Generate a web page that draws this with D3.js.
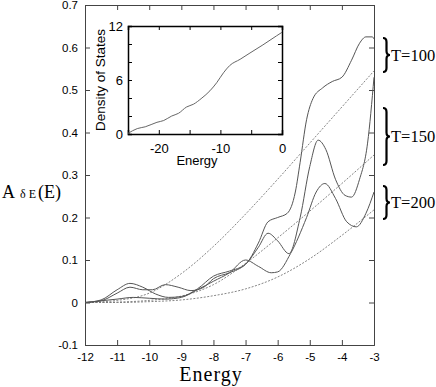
<!DOCTYPE html>
<html>
<head>
<meta charset="utf-8">
<script src="https://cdn.jsdelivr.net/npm/d3@7"></script>
<style>
  body { margin: 0; background: #fff; }
  svg { display: block; }
  .tick text { font-family: "Liberation Sans", Arial, sans-serif; fill: #000; }
</style>
</head>
<body>
<div id="chart"></div>
<script>
// main plot data: [energy, A]
const curveT100 = [[-12,0],[-11.5,0.006],[-11,0.03],[-10.6,0.045],[-10.2,0.036],[-9.8,0.02],[-9.4,0.012],[-9,0.014],[-8.5,0.032],[-8,0.062],[-7.5,0.074],[-7,0.09],[-6.6,0.14],[-6.3,0.19],[-6,0.2],[-5.7,0.21],[-5.45,0.26],[-5.3,0.33],[-5.1,0.43],[-4.9,0.48],[-4.6,0.505],[-4.3,0.52],[-4,0.53],[-3.7,0.57],[-3.45,0.61],[-3.25,0.625],[-3.05,0.625],[-3,0.62]];
const curveT150 = [[-12,0],[-11.5,0.004],[-11,0.022],[-10.6,0.036],[-10.2,0.03],[-9.9,0.03],[-9.5,0.042],[-9.1,0.036],[-8.7,0.028],[-8.3,0.036],[-8,0.056],[-7.5,0.07],[-7,0.09],[-6.6,0.13],[-6.3,0.163],[-6,0.145],[-5.65,0.115],[-5.3,0.2],[-5,0.32],[-4.74,0.382],[-4.5,0.36],[-4.2,0.29],[-3.9,0.252],[-3.7,0.248],[-3.45,0.29],[-3.2,0.375],[-3,0.53]];
const curveT200 = [[-12,0],[-11,0.008],[-10.5,0.012],[-10,0.01],[-9.5,0.008],[-9,0.012],[-8.5,0.03],[-8,0.05],[-7.5,0.07],[-7,0.1],[-6.6,0.085],[-6.2,0.07],[-6,0.072],[-5.6,0.115],[-5.1,0.2],[-4.8,0.26],[-4.53,0.28],[-4.2,0.245],[-3.85,0.19],[-3.55,0.178],[-3.25,0.21],[-3,0.26]];
const dashHigh = [[-12,0],[-11,0.005],[-10,0.022],[-9,0.068],[-8,0.132],[-7,0.208],[-6,0.29],[-5,0.375],[-4,0.46],[-3,0.545]];
const dashMid  = [[-12,0],[-11,0.001],[-10,0.005],[-9,0.015],[-8,0.042],[-7,0.092],[-6,0.152],[-5,0.215],[-4,0.28],[-3,0.347]];
const dashLow  = [[-12,0],[-11,0],[-10,0.002],[-9,0.006],[-8,0.016],[-7,0.032],[-6,0.06],[-5,0.103],[-4,0.158],[-3,0.218]];

const xTicks = [-12,-11,-10,-9,-8,-7,-6,-5,-4,-3];
const yTicks = [-0.1,0,0.1,0.2,0.3,0.4,0.5,0.6,0.7];

// inset: density of states
const dosCurve = [[-25,0.07],[-23.5,0.6],[-22.2,0.8],[-20.3,1.3],[-19.2,1.5],[-17.9,2.0],[-16.8,2.3],[-15.5,3.0],[-14.4,3.3],[-13,4.0],[-11.7,4.8],[-10.6,5.7],[-9.5,6.8],[-8.5,7.6],[-6.8,8.3],[-5.2,9.0],[-3.1,9.9],[-0.9,10.9],[0,11.3]];
const insetXTicks = [-25,-20,-15,-10,-5,0];
const insetXLabels = [-20,-10,0];
const insetYTicks = [0,2,4,6,8,10,12];
const insetYLabels = [0,6,12];

const groups = [
  {label: "T=100", top: 38, bottom: 72},
  {label: "T=150", top: 108, bottom: 165},
  {label: "T=200", top: 186, bottom: 219}
];

const W = 436, H = 387;
const svg = d3.select("#chart").append("svg").attr("width", W).attr("height", H);

const x = d3.scaleLinear().domain([-12,-3]).range([85,374]);
const y = d3.scaleLinear().domain([-0.1,0.7]).range([345,5]);

// plain hyphen for negatives, like the original
const fmtInt = d => String(d);
const fmtY = d => d === 0 ? "0" : d.toFixed(1);

// axes, ticks pointing inward
svg.append("g").attr("transform","translate(0,345)")
  .call(d3.axisBottom(x).tickValues(xTicks).tickSize(-5).tickPadding(8).tickFormat(fmtInt))
  .call(g => g.selectAll("text").attr("font-size", 11.5));
svg.append("g").attr("transform","translate(0,5)")
  .call(d3.axisTop(x).tickValues(xTicks).tickSize(-5).tickFormat(""));
svg.append("g").attr("transform","translate(85,0)")
  .call(d3.axisLeft(y).tickValues(yTicks).tickSize(-5).tickPadding(7).tickFormat(fmtY))
  .call(g => g.selectAll("text").attr("font-size", 11.5));
svg.append("g").attr("transform","translate(374,0)")
  .call(d3.axisRight(y).tickValues(yTicks).tickSize(-5).tickFormat(""));
svg.selectAll(".domain").attr("stroke","#444");
svg.selectAll(".tick line").attr("stroke","#444");

const line = d3.line().x(d => x(d[0])).y(d => y(d[1])).curve(d3.curveMonotoneX);

const plot = svg.append("g");
[dashHigh, dashMid, dashLow].forEach(c => {
  plot.append("path").datum(c).attr("d", line)
    .attr("fill","none").attr("stroke","#777").attr("stroke-width",0.9)
    .attr("stroke-dasharray","2,1.5");
});
[curveT100, curveT150, curveT200].forEach(c => {
  plot.append("path").datum(c).attr("d", line)
    .attr("fill","none").attr("stroke","#555").attr("stroke-width",1);
});

// y label  A δE (E)
const yl = svg.append("text").attr("x",2).attr("y",198)
  .attr("font-family","'Liberation Serif', 'DejaVu Serif', serif").attr("font-size",18);
yl.append("tspan").text("A");
yl.append("tspan").attr("font-size",12).attr("dx",5).text("δ E");
yl.append("tspan").attr("dx",2).text("(E)");

svg.append("text").attr("x",211).attr("y",381).attr("text-anchor","middle")
  .attr("font-family","'Liberation Serif', 'DejaVu Serif', serif").attr("font-size",20)
  .attr("letter-spacing",1).text("Energy");

// braces and temperatures
groups.forEach(gp => {
  const x0 = 383, mid = (gp.top + gp.bottom) / 2, w = 7;
  const p = d3.path();
  p.moveTo(x0, gp.top);
  p.quadraticCurveTo(x0 + w*0.5, gp.top, x0 + w*0.5, gp.top + 4);
  p.lineTo(x0 + w*0.5, mid - 4);
  p.quadraticCurveTo(x0 + w*0.5, mid, x0 + w, mid);
  p.quadraticCurveTo(x0 + w*0.5, mid, x0 + w*0.5, mid + 4);
  p.lineTo(x0 + w*0.5, gp.bottom - 4);
  p.quadraticCurveTo(x0 + w*0.5, gp.bottom, x0, gp.bottom);
  svg.append("path").attr("d", p.toString()).attr("fill","none")
    .attr("stroke","#000").attr("stroke-width",2.2);
  svg.append("text").attr("x",391).attr("y",mid+5.5)
    .attr("font-family","'Liberation Serif', 'DejaVu Serif', serif").attr("font-size",16.5)
    .text(gp.label);
});

// inset
const ix = d3.scaleLinear().domain([-25,0]).range([128,282]);
const iy = d3.scaleLinear().domain([0,12]).range([134,26]);
const inset = svg.append("g");
inset.append("rect").attr("x",128).attr("y",26).attr("width",154).attr("height",108)
  .attr("fill","#fff");
inset.append("g").attr("transform","translate(0,134)")
  .call(d3.axisBottom(ix).tickValues(insetXTicks).tickSize(-4).tickPadding(10)
    .tickFormat(d => insetXLabels.includes(d) ? String(d) : ""))
  .call(g => g.selectAll("text").attr("font-size", 13));
inset.append("g").attr("transform","translate(0,26)")
  .call(d3.axisTop(ix).tickValues(insetXTicks).tickSize(-4).tickFormat(""));
inset.append("g").attr("transform","translate(128,0)")
  .call(d3.axisLeft(iy).tickValues(insetYTicks).tickSize(-4).tickPadding(5)
    .tickFormat(d => insetYLabels.includes(d) ? String(d) : ""))
  .call(g => g.selectAll("text").attr("font-size", 13));
inset.append("g").attr("transform","translate(282,0)")
  .call(d3.axisRight(iy).tickValues(insetYTicks).tickSize(-4).tickFormat(""));
inset.selectAll(".domain").attr("stroke","#000").attr("stroke-width",1.5);

const iline = d3.line().x(d => ix(d[0])).y(d => iy(d[1])).curve(d3.curveMonotoneX);
inset.append("path").datum(dosCurve).attr("d", iline)
  .attr("fill","none").attr("stroke","#666").attr("stroke-width",1);

inset.append("text").attr("x",197).attr("y",165).attr("text-anchor","middle")
  .attr("font-family","'Liberation Sans', Arial, sans-serif").attr("font-size",13)
  .text("Energy");
inset.append("text").attr("transform","translate(105,80) rotate(-90)").attr("text-anchor","middle")
  .attr("font-family","'Liberation Sans', Arial, sans-serif").attr("font-size",13.5)
  .text("Density of States");
</script>
</body>
</html>
